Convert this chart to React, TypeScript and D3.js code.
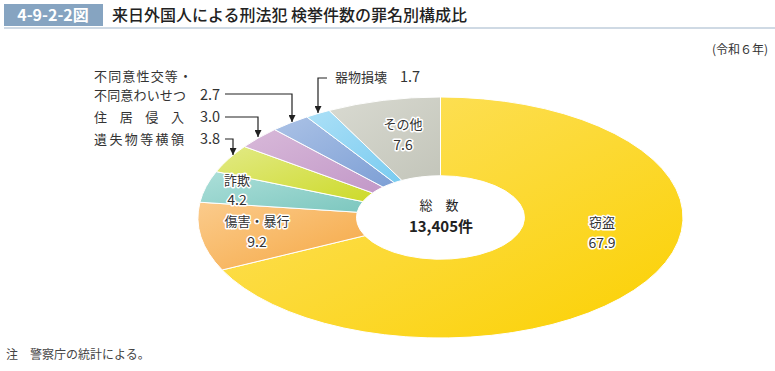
import { useEffect, useRef } from 'react';
import * as d3 from 'd3';

const categories = ['窃盗', '傷害・暴行', '詐欺', '遺失物等横領', '住居侵入', '不同意性交等・不同意わいせつ', '器物損壊', 'その他'];
const shares = [67.9, 9.2, 4.2, 3.8, 3.0, 2.7, 1.7, 7.6];
const totalLabel = '13,405件';
const colorsLight = ['#fde36a', '#fbcb8c', '#acdfd9', '#e2ea86', '#d8b9d9', '#abc2e6', '#ace0f7', '#d9dad1'];
const colorsDark = ['#fbd000', '#f5a844', '#7dc7bf', '#cdda2a', '#c298c8', '#7d9fd5', '#79cbf0', '#c3c5ba'];

const FONT = '"Noto Sans CJK JP", "Noto Sans", sans-serif';

const App = () => {
  const svgRef = useRef(null);

  useEffect(() => {
    const svg = d3.select(svgRef.current);
    svg.selectAll('*').remove();
    const W = 775, H = 371;
    svg.attr('width', W).attr('height', H).style('font-family', FONT);

    // title
    svg.append('rect').attr('x', 4).attr('y', 4).attr('width', 99).attr('height', 22).attr('fill', '#86a4c1');
    svg.append('text').attr('x', 53).attr('y', 21).attr('text-anchor', 'middle')
      .attr('fill', '#fff').attr('font-size', 16).attr('font-weight', 'bold').text('4-9-2-2図');
    svg.append('text').attr('x', 112).attr('y', 21).attr('fill', '#222')
      .attr('font-size', 16).attr('font-weight', 500).text('来日外国人による刑法犯 検挙件数の罪名別構成比');
    svg.append('line').attr('x1', 4).attr('x2', W).attr('y1', 28).attr('y2', 28)
      .attr('stroke', '#9fb4c9').attr('stroke-width', 1);

    svg.append('text').attr('x', 768).attr('y', 54).attr('text-anchor', 'end')
      .attr('fill', '#333').attr('font-size', 12).text('(令和６年)');
    svg.append('text').attr('x', 6).attr('y', 359).attr('fill', '#444')
      .attr('font-size', 12).text('注　警察庁の統計による。');

    // donut drawn as an ellipse
    const cx = 440.5, cy = 217.5, rx = 242.5, ry = 120.5;
    const defs = svg.append('defs');
    shares.forEach((_, i) => {
      const g = defs.append('linearGradient').attr('id', `g${i}`)
        .attr('x1', '0%').attr('y1', '0%').attr('x2', '100%').attr('y2', '100%');
      g.append('stop').attr('offset', '0%').attr('stop-color', colorsLight[i]);
      g.append('stop').attr('offset', '100%').attr('stop-color', colorsDark[i]);
    });

    const pie = d3.pie<number>().sort(null).value(d => d);
    const arcs = pie(shares);
    const arc = d3.arc<d3.PieArcDatum<number>>().innerRadius(84).outerRadius(rx);

    const donut = svg.append('g').attr('transform', `translate(${cx},${cy}) scale(1,${ry / rx})`);
    donut.selectAll('path').data(arcs).enter().append('path')
      .attr('d', arc)
      .attr('fill', (_, i) => `url(#g${i})`)
      .attr('stroke', '#fff')
      .attr('stroke-width', 1)
      .attr('vector-effect', 'non-scaling-stroke');

    // center text
    svg.append('text').attr('x', 439).attr('y', 210).attr('text-anchor', 'middle')
      .attr('fill', '#222').attr('font-size', 13).text('総　数');
    svg.append('text').attr('x', 441).attr('y', 232).attr('text-anchor', 'middle')
      .attr('fill', '#222').attr('font-size', 15).attr('font-weight', 'bold').text(totalLabel);

    const halo = (sel) => sel.attr('stroke', '#fff').attr('stroke-width', 3)
      .attr('stroke-linejoin', 'round').attr('paint-order', 'stroke').attr('fill', '#333');

    // labels inside slices
    const inside = [
      { i: 0, x: 602, y1: 227, y2: 248 },
      { i: 1, x: 257, y1: 226, y2: 247 },
      { i: 2, x: 237, y1: 185, y2: 205 },
      { i: 7, x: 403, y1: 129, y2: 150 },
    ];
    inside.forEach(d => {
      svg.append('text').attr('x', d.x).attr('y', d.y1).attr('text-anchor', 'middle')
        .attr('font-size', 13).text(categories[d.i]).call(halo);
      svg.append('text').attr('x', d.x).attr('y', d.y2).attr('text-anchor', 'middle')
        .attr('font-size', 14).text(shares[d.i].toFixed(1)).call(halo);
    });

    // outside labels with leader arrows
    const lead = svg.append('g');
    defs.append('marker').attr('id', 'arr').attr('viewBox', '0 0 10 10')
      .attr('refX', 10).attr('refY', 5).attr('markerWidth', 7).attr('markerHeight', 7)
      .attr('markerUnits', 'userSpaceOnUse').attr('orient', 'auto')
      .append('path').attr('d', 'M0,0L10,5L0,10Z').attr('fill', '#222');

    const txt = (x, y, s, len) => {
      lead.append('text').attr('x', x).attr('y', y).attr('fill', '#333')
        .attr('font-size', 13).attr('textLength', len).attr('lengthAdjust', 'spacing').text(s);
    };
    txt(94, 81, '不同意性交等・', 98);
    txt(94, 100, '不同意わいせつ', 92);
    txt(94, 122, '住　居　侵　入', 90);
    txt(94, 144, '遺失物等横領', 90);
    [
      { i: 5, y: 100 }, { i: 4, y: 122 }, { i: 3, y: 144 },
    ].forEach(d => {
      lead.append('text').attr('x', 200).attr('y', d.y).attr('fill', '#333')
        .attr('font-size', 14.5).text(shares[d.i].toFixed(1));
    });
    lead.append('text').attr('x', 335).attr('y', 82).attr('fill', '#333').attr('font-size', 13).text(categories[6]);
    lead.append('text').attr('x', 400).attr('y', 82).attr('fill', '#333').attr('font-size', 14.5).text(shares[6].toFixed(1));

    const paths = [
      [[225, 94], [292, 94], [292, 122]],
      [[225, 117], [258, 117], [258, 137]],
      [[225, 139], [233, 139], [233, 155]],
      [[327, 78], [318, 78], [318, 113]],
    ];
    paths.forEach(p => {
      lead.append('path').attr('d', d3.line()(p as [number, number][]))
        .attr('fill', 'none').attr('stroke', '#222').attr('stroke-width', 1.2)
        .attr('marker-end', 'url(#arr)');
    });
  }, []);

  return <svg ref={svgRef} style={{ display: 'block', position: 'absolute', left: 0, top: 0 }}></svg>;
};

export default App;
